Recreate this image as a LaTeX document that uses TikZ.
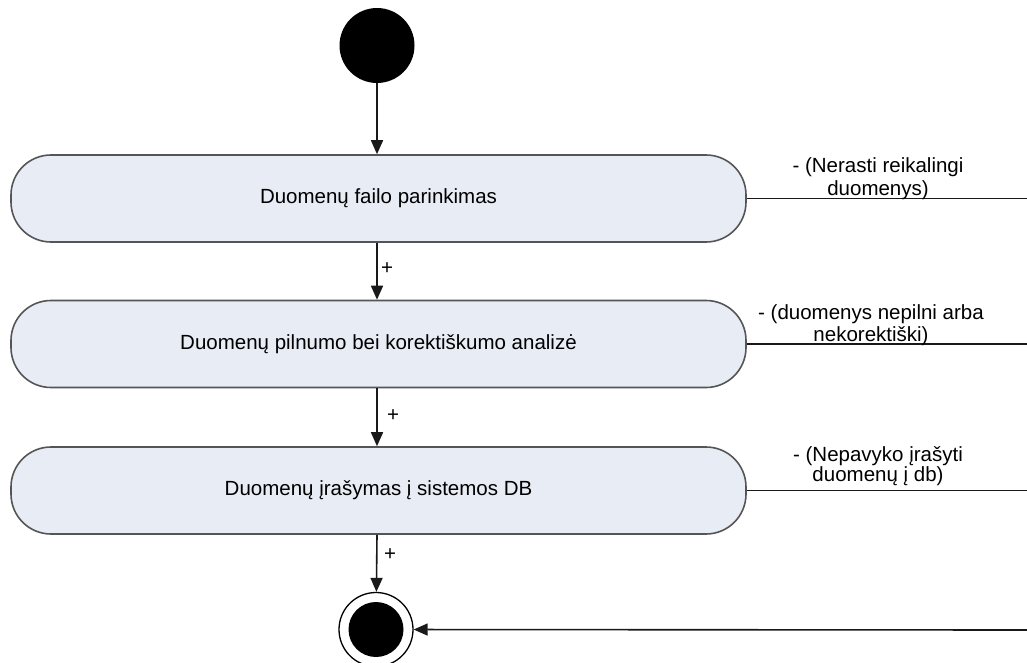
\documentclass[tikz,border=0pt]{standalone}
\usepackage{fontspec}
\setmainfont{Liberation Sans}
\usetikzlibrary{arrows.meta}
\definecolor{actfill}{RGB}{232,236,245}
\definecolor{actline}{RGB}{85,85,85}
\definecolor{flow}{RGB}{25,25,25}
\begin{document}
\begin{tikzpicture}[x=1pt,y=-1pt,
  font=\fontsize{20.5}{22}\selectfont,
  activity/.style={draw=actline, fill=actfill, line width=1.6pt, rounded corners=40pt,
    minimum width=735pt, minimum height=87pt, inner sep=0pt},
  flowline/.style={draw=flow, line width=1.6pt},
  flowarrow/.style={flowline, -{Triangle[width=12pt,length=14pt]}},
  guard/.style={inner sep=0pt, align=center, anchor=base},
  plus/.style={inner sep=0pt}]
  \useasboundingbox (0,0) rectangle (1027,663);

  % initial and final states
  \node[circle, fill=black, minimum size=75pt, inner sep=0pt] (init) at (377,45.5) {};
  \node[circle, draw=black, line width=1.3pt, fill=white, minimum size=74pt, inner sep=0pt] (final) at (376,629.5) {};
  \node[circle, fill=black, minimum size=55pt, inner sep=0pt] (finaldot) at (final.center) {};

  % activities
  \node[activity] (a1) at (378.5,198.5) {Duomenų failo parinkimas};
  \node[activity] (a2) at (378.5,344) {Duomenų pilnumo bei korektiškumo analizė};
  \node[activity] (a3) at (378.5,490.5) {Duomenų įrašymas į sistemos DB};

  % main flow
  \draw[flowarrow] (init) -- (init |- a1.north);
  \draw[flowarrow] (init |- a1.south) -- (init |- a2.north);
  \draw[flowarrow] (init |- a2.south) -- (init |- a3.north);
  \draw[flowarrow] (init |- a3.south) -- (final);
  \node[plus] (p1) at (387,269) {+};
  \node[plus] (p2) at (393,416) {+};
  \node[plus] (p3) at (390,555) {+};

  % failure branches leaving to the right
  \coordinate (r1) at (1027,198.5);
  \coordinate (r2) at (1027,344);
  \coordinate (r3) at (1027,490.5);
  \coordinate (r4) at (1027,630);
  \draw[flowline] (a1.east) -- (r1);
  \draw[flowline] (a2.east) -- (r2);
  \draw[flowline] (a3.east) -- (r3);
  \draw[flowarrow] (r4) -- (final);

  % guard labels, anchored at the baseline of their last line
  \node[guard] (g1) at (878,195) {- (Nerasti reikalingi\\ duomenys)};
  \node[guard] (g2) at (871,341) {- (duomenys nepilni arba\\ nekorektiški)};
  \node[guard] (g3) at (878,481) {- (Nepavyko įrašyti\\[-2pt] duomenų į db)};
\end{tikzpicture}
\end{document}
